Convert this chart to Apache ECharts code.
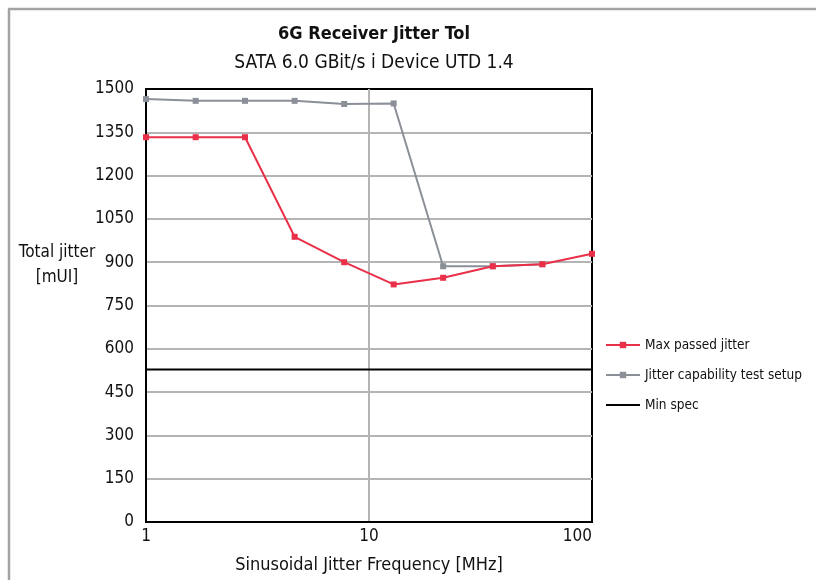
<!DOCTYPE html>
<html>
<head>
<meta charset="utf-8">
<script src="https://cdn.jsdelivr.net/npm/echarts@6/dist/echarts.min.js"></script>
<style>
  html, body { margin: 0; padding: 0; background: #fff; }
  #jitter-tol { width: 816px; height: 580px; }
</style>
</head>
<body>
<div id="jitter-tol"></div>
<script>
// frequency points (MHz), log spaced
var freqs = [1, 1.67, 2.78, 4.64, 7.74, 12.9, 21.5, 35.9, 59.9, 100];
var maxPassed = [1333, 1333, 1333, 988, 900, 823, 846, 886, 893, 929];
var testSetup = [1465, 1459, 1459, 1459, 1448, 1450, 886, 886, 893];
var minSpec = [528, 528];
var minSpecFreqs = [1, 100];
var yTicks = [0, 150, 300, 450, 600, 750, 900, 1050, 1200, 1350, 1500];

var font = "'Liberation Sans Narrow', 'DejaVu Sans Condensed', sans-serif";

function pairs(xs, ys) {
  var out = [];
  for (var i = 0; i < ys.length; i++) {
    out.push([xs[i], ys[i]]);
  }
  return out;
}

var chart = echarts.init(document.getElementById("jitter-tol"));
var option = {
  animation: false,
  title: [
    {
      text: "6G Receiver Jitter Tol",
      left: 369,
      top: 20,
      textAlign: "center",
      textStyle: { fontFamily: font, fontSize: 18, fontWeight: "bold", color: "#111" }
    },
    {
      text: "SATA 6.0 GBit/s i Device UTD 1.4",
      left: 369,
      top: 49,
      textAlign: "center",
      textStyle: { fontFamily: font, fontSize: 19, fontWeight: "normal", color: "#111" }
    }
  ],
  graphic: [
    // frame top + left
    { type: "line", shape: { x1: 8, y1: 9, x2: 816, y2: 9 }, style: { stroke: "#a3a3a6", lineWidth: 2.5 } },
    { type: "line", shape: { x1: 9, y1: 9, x2: 9, y2: 580 }, style: { stroke: "#a3a3a6", lineWidth: 2.5 } },
    {
      type: "text",
      x: 57,
      y: 265,
      style: {
        text: "Total jitter\n[mUI]",
        font: "17px " + font,
        fill: "#111",
        lineHeight: 25,
        align: "center",
        verticalAlign: "middle"
      }
    }
  ],
  legend: {
    orient: "vertical",
    left: 600,
    top: 333,
    itemWidth: 34,
    itemHeight: 8,
    itemGap: 16,
    textStyle: { fontFamily: font, fontSize: 13.5, color: "#111" },
    data: [
      "Max passed jitter",
      "Jitter capability test setup",
      { name: "Min spec", itemStyle: { opacity: 0 } }
    ]
  },
  grid: {
    left: 146,
    right: 224,
    top: 89,
    bottom: 58,
    show: true,
    borderColor: "#000",
    borderWidth: 2
  },
  xAxis: {
    type: "log",
    logBase: 10,
    min: 1,
    max: 100,
    name: "Sinusoidal Jitter Frequency [MHz]",
    nameLocation: "middle",
    nameGap: 34,
    nameTextStyle: { fontFamily: font, fontSize: 18, color: "#111" },
    axisLine: { lineStyle: { color: "#000", width: 2 } },
    axisTick: { show: false },
    minorTick: { show: false },
    axisLabel: { fontFamily: font, fontSize: 17, color: "#111", margin: 6, alignMaxLabel: "right" },
    splitLine: { show: true, showMinLine: false, showMaxLine: false, lineStyle: { color: "#b4b4b4", width: 2 } }
  },
  yAxis: {
    type: "value",
    min: yTicks[0],
    max: yTicks[yTicks.length - 1],
    interval: 150,
    axisLine: { show: true, lineStyle: { color: "#000", width: 2 } },
    axisTick: { show: false },
    axisLabel: {
      fontFamily: font,
      fontSize: 17,
      color: "#111",
      margin: 12,
      formatter: function(v) { return String(v); }
    },
    splitLine: { show: true, showMinLine: false, showMaxLine: false, lineStyle: { color: "#b4b4b4", width: 2 } }
  },
  series: [
    {
      name: "Max passed jitter",
      type: "line",
      z: 4,
      data: pairs(freqs, maxPassed),
      symbol: "rect",
      symbolSize: 6,
      lineStyle: { color: "#ea3049", width: 2 },
      itemStyle: { color: "#ea3049" }
    },
    {
      name: "Jitter capability test setup",
      type: "line",
      z: 3,
      data: pairs(freqs, testSetup),
      symbol: "rect",
      symbolSize: 6,
      lineStyle: { color: "#8b8f97", width: 2 },
      itemStyle: { color: "#8b8f97" }
    },
    {
      name: "Min spec",
      type: "line",
      z: 3,
      data: pairs(minSpecFreqs, minSpec),
      symbol: "none",
      lineStyle: { color: "#000", width: 2 },
      itemStyle: { color: "#000" }
    }
  ]
};
chart.setOption(option);
window.addEventListener("resize", function() {
  chart.resize();
});
</script>
</body>
</html>
